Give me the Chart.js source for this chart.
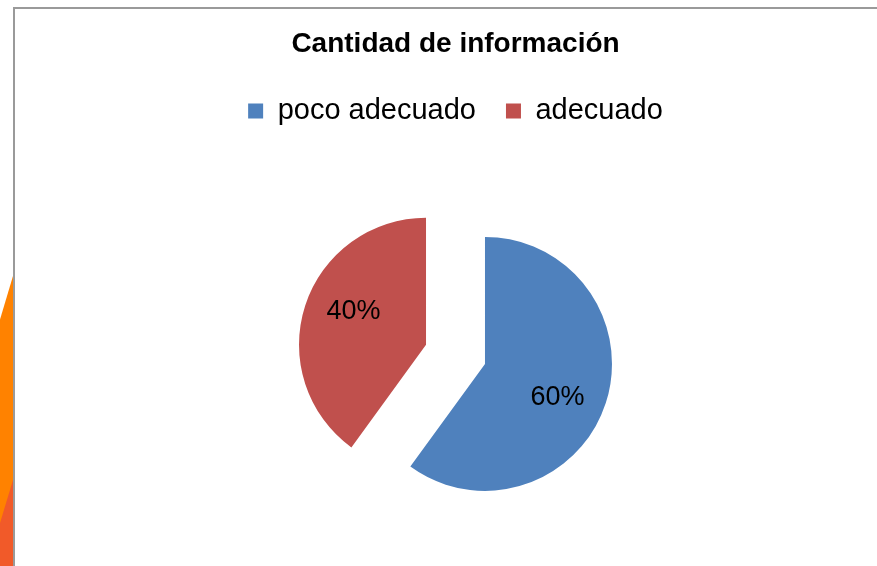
<!DOCTYPE html>
<html>
<head>
<meta charset="utf-8">
<script src="https://cdn.jsdelivr.net/npm/chart.js@4"></script>
<style>
  html, body { margin: 0; padding: 0; background: #fff; overflow: hidden; }
  #wrap { position: relative; width: 877px; height: 566px; overflow: hidden; }
  #frame_left { position: absolute; left: 13px; top: 7px; width: 2px; height: 559px; background: #9a9a9a; }
  #frame_top { position: absolute; left: 13px; top: 7px; width: 864px; height: 2px; background: #9a9a9a; }
  #deco_orange { position: absolute; left: 0; top: 276px; width: 13px; height: 290px; background: #ff8200;
    clip-path: polygon(100% 0, 100% 100%, 0 100%, 0 15%); }
  #deco_red { position: absolute; left: 0; top: 480px; width: 13px; height: 86px; background: #f15a29;
    clip-path: polygon(100% 0, 100% 100%, 0 100%, 0 50%); }
  #box { position: absolute; left: 0; top: 0; width: 877px; height: 585px; }
</style>
</head>
<body>
<div id="wrap">
  <div id="deco_orange"></div>
  <div id="deco_red"></div>
  <div id="frame_left"></div>
  <div id="frame_top"></div>
  <div id="box"><canvas id="pie"></canvas></div>
</div>
<script>
const chart_title = "Cantidad de información";
const categories = ["poco adecuado", "adecuado"];
const values = [60, 40];
const slice_colors = ["#4f81bd", "#c0504d"];

const font_family = "'Liberation Sans', Arial, sans-serif";
const explode = 31;

// pulls each slice out along its bisector (excel style exploded pie)
const explode_plugin = {
  id: 'explode',
  beforeDatasetDraw(chart, args) {
    const ctx = chart.ctx;
    args.meta.data.forEach(arc => {
      const mid = (arc.startAngle + arc.endAngle) / 2;
      ctx.save();
      ctx.translate(Math.cos(mid) * explode, Math.sin(mid) * explode);
      arc.draw(ctx, chart.chartArea);
      ctx.restore();
    });
    return false;
  }
};

const pct_plugin = {
  id: 'pct',
  afterDatasetsDraw(chart) {
    const ctx = chart.ctx;
    const meta = chart.getDatasetMeta(0);
    const total = values.reduce((a, b) => a + b, 0);
    ctx.save();
    ctx.font = "27px " + font_family;
    ctx.fillStyle = "#000";
    ctx.textAlign = "center";
    ctx.textBaseline = "middle";
    meta.data.forEach((arc, i) => {
      const mid = (arc.startAngle + arc.endAngle) / 2;
      const cx = arc.x + Math.cos(mid) * explode;
      const cy = arc.y + Math.sin(mid) * explode;
      const a = mid + 0.12;
      const r = arc.outerRadius * 0.63;
      const pct = Math.round(values[i] / total * 100) + "%";
      ctx.fillText(pct, cx + Math.cos(a) * r, cy + Math.sin(a) * r);
    });
    ctx.restore();
  }
};

new Chart(document.getElementById("pie"), {
  type: 'pie',
  data: {
    labels: categories,
    datasets: [{
      data: values,
      backgroundColor: slice_colors,
      borderWidth: 0
    }]
  },
  options: {
    responsive: true,
    maintainAspectRatio: false,
    animation: false,
    radius: 127,
    layout: { padding: { left: 34, bottom: 12 } },
    plugins: {
      title: {
        display: true,
        text: chart_title,
        color: "#000",
        font: { family: font_family, size: 28, weight: 'bold' },
        padding: { top: 27, bottom: 6 }
      },
      legend: {
        position: 'top',
        labels: {
          color: "#000",
          boxWidth: 15,
          boxHeight: 15,
          padding: 30,
          font: { family: font_family, size: 29 }
        }
      },
      tooltip: { enabled: false }
    }
  },
  plugins: [explode_plugin, pct_plugin]
});
</script>
</body>
</html>
